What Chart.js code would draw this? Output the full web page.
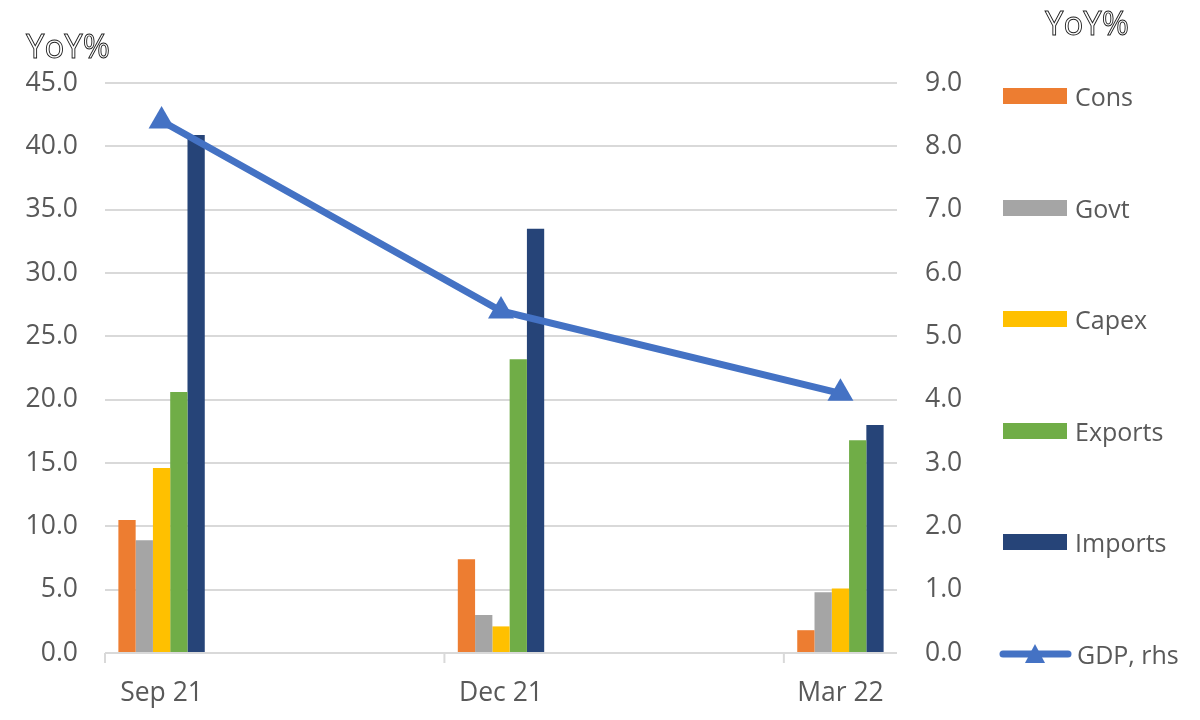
<!DOCTYPE html>
<html>
<head>
<meta charset="utf-8">
<script src="https://cdn.jsdelivr.net/npm/chart.js@4/dist/chart.umd.min.js"></script>
<style>
  body { margin: 0; background: #fff; font-family: "Open Sans", sans-serif; }
  #wrap { position: relative; width: 1200px; height: 720px; }
  .axTitle { position: absolute; font-size: 33px; line-height: 1; color: #fff; -webkit-text-stroke: 0.9px #222; white-space: nowrap; }
  #legend { position: absolute; left: 998px; top: 0; }
  .lg { position: absolute; left: 0; display: flex; align-items: center; height: 30px; white-space: nowrap; color: #595959; font-size: 25px; line-height: 30px; }
  .lg .sw { width: 64px; height: 16px; margin-left: 5px; margin-right: 8px; }
  .lg svg { margin-right: 5px; }
</style>
</head>
<body>
<div id="wrap">
  <canvas id="chart"></canvas>
  <div class="axTitle" style="left:26px;top:29px">YoY%</div>
  <div class="axTitle" style="left:1045px;top:6px">YoY%</div>
  <div id="legend"></div>
</div>
<script>
// ===== Data =====
const quarters = ["Sep 21", "Dec 21", "Mar 22"];
const monthIndex = [0, 3, 6];          // months since Sep 21 (date axis)
const quarterBounds = [-0.5, 2.5, 5.5]; // tick marks between quarters

const seriesNames = ["Cons", "Govt", "Capex", "Exports", "Imports"];
const seriesColors = ["#ED7D31", "#A5A5A5", "#FFC000", "#70AD47", "#264478"];
const cons = [10.5, 7.4, 1.8];
const govt = [8.9, 3.0, 4.8];
const capex = [14.6, 2.1, 5.1];
const exportsYoY = [20.6, 23.2, 16.8];
const importsYoY = [40.9, 33.5, 18.0];
const barValues = [cons, govt, capex, exportsYoY, importsYoY];

const gdpName = "GDP, rhs";
const gdpColor = "#4472C4";
const gdp = [8.4, 5.4, 4.1];

const textColor = "#595959";
const gridColor = "#D9D9D9";

// ===== Datasets =====
const toPoints = arr => arr.map((v, i) => ({ x: monthIndex[i], y: v }));

const datasets = [{
  type: "line",
  label: gdpName,
  data: toPoints(gdp),
  yAxisID: "y2",
  borderColor: gdpColor,
  backgroundColor: gdpColor,
  borderWidth: 7,
  pointStyle: "triangle",
  pointRadius: 15,
  pointBorderWidth: 0,
  order: 0
}];
seriesNames.forEach((name, i) => {
  datasets.push({
    type: "bar",
    label: name,
    data: toPoints(barValues[i]),
    yAxisID: "y",
    backgroundColor: seriesColors[i],
    categoryPercentage: 0.2545,
    barPercentage: 1,
    order: 1
  });
});

// ===== small tick marks under the x axis =====
const quarterTicks = {
  id: "quarterTicks",
  afterDraw(chart) {
    const { ctx, scales: { x, y } } = chart;
    const base = y.getPixelForValue(0);
    ctx.save();
    ctx.strokeStyle = gridColor;
    ctx.lineWidth = 2;
    quarterBounds.forEach(v => {
      const px = x.getPixelForValue(v);
      ctx.beginPath();
      ctx.moveTo(px, base);
      ctx.lineTo(px, base + 10);
      ctx.stroke();
    });
    ctx.restore();
  }
};

const tickFont = { family: "'Open Sans', sans-serif", size: 26.5 };

new Chart(document.getElementById("chart"), {
  data: { datasets },
  options: {
    responsive: true,
    maintainAspectRatio: false,
    animation: false,
    layout: { padding: { top: 83, left: 0, right: 0, bottom: 0 } },
    plugins: { legend: { display: false }, tooltip: { enabled: false } },
    scales: {
      x: {
        type: "linear",
        offset: false,
        min: -0.5,
        max: 6.5,
        afterBuildTicks: s => { s.ticks = monthIndex.map(v => ({ value: v })); },
        afterFit: s => { s.height = 67; },
        grid: { display: false },
        border: { display: false },
        ticks: {
          color: textColor, font: tickFont, padding: 17, autoSkip: false, maxRotation: 0,
          callback: v => quarters[monthIndex.indexOf(v)]
        }
      },
      y: {
        position: "left",
        min: 0, max: 45,
        afterFit: s => { s.width = 105; },
        grid: { color: gridColor, lineWidth: 2, drawTicks: false },
        border: { display: false },
        ticks: { stepSize: 5, color: textColor, font: tickFont, padding: 27, callback: v => v.toFixed(1) }
      },
      y2: {
        position: "right",
        min: 0, max: 9,
        afterFit: s => { s.width = 303; },
        grid: { drawOnChartArea: false, drawTicks: false },
        border: { display: false },
        ticks: { stepSize: 1, color: textColor, font: tickFont, padding: 28, callback: v => v.toFixed(1) }
      }
    }
  },
  plugins: [quarterTicks]
});

// ===== Legend =====
const legend = document.getElementById("legend");
const rowCenters = [96, 207.5, 319, 430.5, 542, 654];
seriesNames.forEach((name, i) => {
  legend.innerHTML += `<div class="lg" style="top:${rowCenters[i] - 15}px"><span class="sw" style="background:${seriesColors[i]}"></span>${name}</div>`;
});
legend.innerHTML += `<div class="lg" style="top:${rowCenters[5] - 15}px">
  <svg width="74" height="30" viewBox="0 0 74 30">
    <line x1="5" y1="15" x2="70" y2="15" stroke="${gdpColor}" stroke-width="7" stroke-linecap="round"/>
    <polygon points="37,5 47,24 27,24" fill="${gdpColor}"/>
  </svg>${gdpName}</div>`;
</script>
</body>
</html>
